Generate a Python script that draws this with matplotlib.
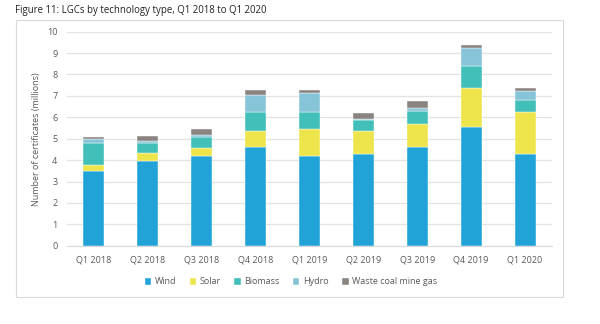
import matplotlib
matplotlib.use('Agg')
import matplotlib.pyplot as plt
import matplotlib.patches as mpatches
import numpy as np

# quarterly LGC creation by fuel source (millions of certificates)
quarters = ["Q1 2018", "Q2 2018", "Q3 2018", "Q4 2018", "Q1 2019",
            "Q2 2019", "Q3 2019", "Q4 2019", "Q1 2020"]
wind    = [3.51, 3.95, 4.17, 4.63, 4.17, 4.29, 4.60, 5.54, 4.29]
solar   = [0.27, 0.40, 0.39, 0.75, 1.30, 1.09, 1.11, 1.82, 1.98]
biomass = [1.04, 0.46, 0.51, 0.89, 0.80, 0.48, 0.57, 1.02, 0.56]
hydro   = [0.16, 0.10, 0.08, 0.79, 0.85, 0.07, 0.17, 0.87, 0.40]
waste   = [0.09, 0.22, 0.32, 0.20, 0.14, 0.28, 0.32, 0.11, 0.14]

series = [("Wind", wind, "#21a3d7"),
          ("Solar", solar, "#ede54b"),
          ("Biomass", biomass, "#41bfb8"),
          ("Hydro", hydro, "#88c4d8"),
          ("Waste coal mine gas", waste, "#8a8480")]

plt.rcParams['font.family'] = ['Open Sans', 'DejaVu Sans']
txtcol = "#595959"

fig = plt.figure(figsize=(6.0, 3.24), dpi=100)

# light frame round the chart area
fig.patches.append(mpatches.Rectangle((16/600, 1-297/324), 547/600, 277/324,
                                      transform=fig.transFigure, fill=False,
                                      edgecolor="#d9d9d9", linewidth=0.8))

fig.text(15/600, 1-10/324, "Figure 11: LGCs by technology type, Q1 2018 to Q1 2020",
         fontsize=6.9, color="#222222", va='center', ha='left')

ax = fig.add_axes([67/600, 1-245.7/324, 485/600, 214/324])

x = np.arange(len(quarters))
bottom = np.zeros(len(quarters))
for name, vals, col in series:
    ax.bar(x, vals, 0.39, bottom=bottom, color=col, label=name,
           edgecolor='white', linewidth=0.3, zorder=3)
    bottom += np.array(vals)

ax.set_xlim(-0.5, len(quarters)-0.5)
ax.set_ylim(0, 10)
ax.set_yticks(range(0, 11))
ax.set_xticks(x)
ax.set_xticklabels(quarters)
ax.grid(axis='y', color="#e3e3e3", linewidth=0.9, zorder=0)
for s in ['top', 'right', 'left']:
    ax.spines[s].set_visible(False)
ax.spines['bottom'].set_color("#d9d9d9")
ax.tick_params(axis='both', length=0, labelsize=6.5, colors=txtcol)
ax.tick_params(axis='y', pad=7)
ax.tick_params(axis='x', pad=7)

fig.text(37/600, 1-138.7/324, "Number of certificates (millions)", rotation=90,
         fontsize=6.5, color=txtcol, ha='center', va='center')

fig.legend(loc='center', bbox_to_anchor=(291/600, 1-282/324), ncol=5,
           frameon=False, fontsize=6.5, labelcolor=txtcol,
           handlelength=0.7, handleheight=0.7, handletextpad=0.4,
           columnspacing=1.5)

plt.savefig("out.png", dpi=100)
